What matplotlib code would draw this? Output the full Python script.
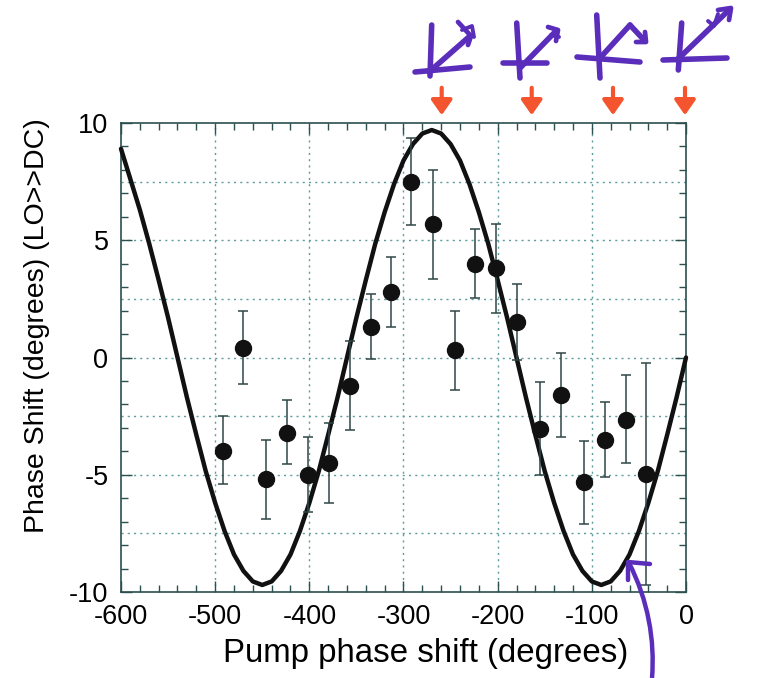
import numpy as np
import matplotlib
matplotlib.use("Agg")
import matplotlib.pyplot as plt
from matplotlib.lines import Line2D
from matplotlib.patches import FancyArrowPatch
from matplotlib.path import Path
from matplotlib.patches import PathPatch
from matplotlib.ticker import MultipleLocator

plt.rcParams['font.family'] = ['Liberation Sans', 'DejaVu Sans']
plt.rcParams['axes.unicode_minus'] = False

# ---- data ----
pump_shift = [-492, -470, -446, -424, -401, -379, -357, -335, -313, -292, -269,
              -245, -224, -202, -180, -155, -133, -108, -86, -64, -42]
phase_shift = [-4.0, 0.4, -5.2, -3.2, -5.0, -4.5, -1.2, 1.3, 2.8, 7.5, 5.7,
               0.3, 4.0, 3.8, 1.5, -3.05, -1.6, -5.3, -3.5, -2.65, -4.95]
err_up = [1.5, 1.6, 1.7, 1.4, 1.6, 1.7, 1.9, 1.4, 1.5, 1.85, 2.3,
          1.7, 1.5, 1.9, 1.65, 2.0, 1.8, 1.75, 1.6, 1.9, 4.7]
err_down = [1.4, 1.55, 1.7, 1.35, 1.6, 1.7, 1.9, 1.35, 1.5, 1.85, 2.35,
            1.7, 1.45, 1.9, 1.6, 1.95, 1.8, 1.8, 1.6, 1.85, 4.75]

curve_x = [-600, -590, -580, -570, -560, -550, -540, -530, -520, -510,
           -500, -490, -480, -470, -460, -450, -440, -430, -420, -410,
           -400, -390, -380, -370, -360, -350, -340, -330, -320, -310,
           -300, -290, -280, -270, -260, -250, -240, -230, -220, -210,
           -200, -190, -180, -170, -160, -150, -140, -130, -120, -110,
           -100, -90, -80, -70, -60, -50, -40, -30, -20, -10, 0]
curve_y = [8.9, 7.6, 6.3, 4.85, 3.3, 1.7, 0.0, -1.7, -3.3, -4.85,
           -6.2, -7.4, -8.4, -9.1, -9.55, -9.7, -9.55, -9.1, -8.4, -7.4,
           -6.2, -4.85, -3.3, -1.7, 0.0, 1.7, 3.3, 4.85, 6.2, 7.4,
           8.4, 9.1, 9.55, 9.7, 9.55, 9.1, 8.4, 7.4, 6.2, 4.85,
           3.3, 1.7, 0.0, -1.7, -3.3, -4.85, -6.2, -7.4, -8.4, -9.1,
           -9.55, -9.7, -9.55, -9.1, -8.4, -7.4, -6.2, -4.85, -3.3, -1.7, 0.0]

x_ticks = [-600, -500, -400, -300, -200, -100, 0]
x_tick_labels = ['-600', '-500', '-400', '-300', '-200', '-100', '0']
y_ticks = [-10, -5, 0, 5, 10]
y_tick_labels = ['-10', '-5', '0', '5', '10']

W, H = 763, 678
fig = plt.figure(figsize=(W / 100, H / 100), dpi=100)
ax = fig.add_axes([121 / W, 1 - 592 / H, (686 - 121) / W, (592 - 123) / H])

frame_col = '#2c4f4f'
grid_col = '#5f9c9c'

ax.set_xlim(-600, 0)
ax.set_ylim(-10, 10)

# grid
for gx in [-500, -400, -300, -200, -100]:
    ax.axvline(gx, color=grid_col, lw=1.0, ls=(0, (1.5, 3)), zorder=0)
for gy in [-7.5, -5, -2.5, 0, 2.5, 5, 7.5]:
    ax.axhline(gy, color=grid_col, lw=1.0, ls=(0, (1.5, 3)), zorder=0)

ax.plot(curve_x, curve_y, color='#111111', lw=3.2, zorder=3,
        solid_capstyle='round', solid_joinstyle='round', clip_on=False)
ax.errorbar(pump_shift, phase_shift, yerr=[err_down, err_up], fmt='o',
            color='#111111', ms=11.5, ecolor='#2f4646', elinewidth=1.1,
            capsize=3.5, capthick=1.1, zorder=4)

ax.set_xticks(x_ticks)
ax.set_xticklabels(x_tick_labels)
ax.set_yticks(y_ticks)
ax.set_yticklabels(y_tick_labels)
ax.xaxis.set_minor_locator(MultipleLocator(20))
ax.yaxis.set_minor_locator(MultipleLocator(1))
ax.tick_params(which='both', direction='in', top=True, right=True,
               color=frame_col, width=1.0)
ax.tick_params(which='major', length=8, labelsize=19.5, pad=9)
ax.tick_params(which='minor', length=5)
for s in ax.spines.values():
    s.set_color(frame_col)
    s.set_linewidth(1.2)

ax.set_xlabel('Pump phase shift (degrees)', fontsize=23.8)
ax.xaxis.set_label_coords((426 - 121) / 565, (592 - 638) / 469)
ax.set_ylabel('Phase Shift (degrees) (LO>>DC)', fontsize=20.5)
ax.yaxis.set_label_coords((50 - 121) / 565, (592 - 326) / 469)


def px(x, y):
    return (x / W, 1 - y / H)


purple = '#5a2dbb'
red = '#f4552e'

# red arrows above the plot
for xa in [441.7, 531.7, 613, 685]:
    fig.add_artist(FancyArrowPatch(px(xa, 85), px(xa, 118),
                                   transform=fig.transFigure,
                                   arrowstyle='-|>,head_length=0.5,head_width=0.35',
                                   mutation_scale=18, color=red, lw=3.0))


def pline(pts, lw=4.0):
    xs = [p[0] / W for p in pts]
    ys = [1 - p[1] / H for p in pts]
    fig.add_artist(Line2D(xs, ys, transform=fig.transFigure, color=purple,
                          lw=lw, solid_capstyle='round', solid_joinstyle='round'))


# hand-drawn symbols
# 1
pline([(431.7, 25), (430, 76)])
pline([(415, 72), (470, 67)])
pline([(429, 72), (470, 36)])
pline([(458, 22), (471, 36), (468, 45)], lw=3.4)
pline([(462, 30), (472, 26), (474, 37)], lw=2.8)
# 2
pline([(516.7, 23), (520, 78)])
pline([(503, 63), (547, 63)])
pline([(520, 68), (556, 31)])
pline([(548, 27), (558, 30), (556, 41)], lw=3.4)
pline([(551, 35), (559, 37)], lw=2.8)
# 3
pline([(596.7, 15), (600, 78)])
pline([(577, 57), (640, 62)])
pline([(600, 58), (630, 25)])
pline([(630, 25), (644, 40)])
pline([(636, 42), (646, 42), (645, 32)], lw=3.4)
# 4
pline([(681.7, 23), (678.3, 70)])
pline([(663, 60), (727, 58)])
pline([(677, 60), (730, 9)])
pline([(718, 10), (731, 8), (729, 20)], lw=3.4)
pline([(708, 21), (714, 26), (718, 14)], lw=2.8)

# purple arrow at bottom right
verts = [px(652, 678), px(655, 640), px(648, 600), px(629, 563)]
codes = [Path.MOVETO, Path.CURVE4, Path.CURVE4, Path.CURVE4]
fig.add_artist(PathPatch(Path(verts, codes), transform=fig.transFigure,
                         fill=False, edgecolor=purple, lw=3.2))
pline([(628, 580), (628, 562), (650, 564)], lw=3.2)

fig.savefig('out.png', dpi=100)
